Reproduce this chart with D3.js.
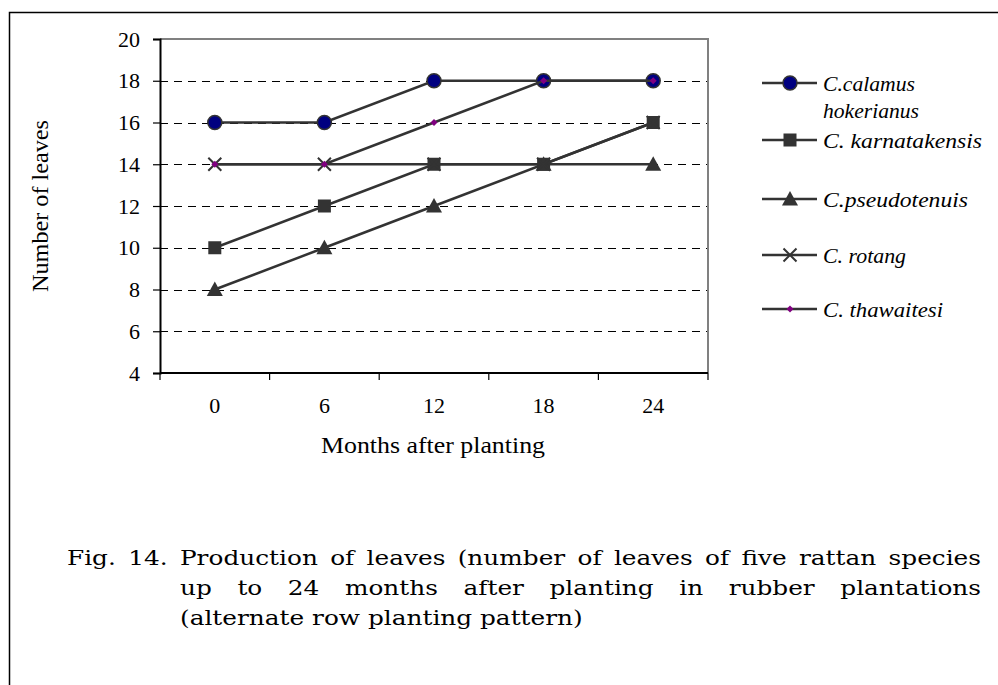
<!DOCTYPE html>
<html><head><meta charset="utf-8">
<script src="https://cdn.jsdelivr.net/npm/d3@7"></script>
<style>body{margin:0;background:#fff}svg{display:block}</style>
</head><body>
<script>
const months = ["0", "6", "12", "18", "24"];
const yTicks = [4, 6, 8, 10, 12, 14, 16, 18, 20];
const calamus = [16, 16, 18, 18, 18];
const karnatakensis = [10, 12, 14, 14, 16];
const pseudotenuis = [8, 10, 12, 14, 14];
const rotang = [14, 14, 14, 14, 16];
const thawaitesi = [14, 14, 16, 18, 18];
const seriesNames = [["C.calamus", "hokerianus"], ["C. karnatakensis"], ["C.pseudotenuis"], ["C. rotang"], ["C. thawaitesi"]];
const captionLines = [
  "Fig. 14. Production of leaves (number of leaves of five rattan species",
  "up to 24 months after planting in rubber plantations",
  "(alternate row planting pattern)"
];

const series = [
  {values: calamus, marker: "circle"},
  {values: karnatakensis, marker: "square"},
  {values: pseudotenuis, marker: "triangle"},
  {values: rotang, marker: "x"},
  {values: thawaitesi, marker: "dot"}
];

const W = 998, H = 685;
const svg = d3.select("body").append("svg").attr("width", W).attr("height", H);
const F = "'Liberation Serif', serif";

// frame
svg.append("path").attr("d", "M9.5,685 V12.5 H998").attr("fill", "none").attr("stroke", "#000").attr("stroke-width", 1.5);

const L = 160, R = 708, T = 39, B = 373;
const x = d3.scaleBand().domain(months).range([L, R]);
const y = d3.scaleLinear().domain([4, 20]).range([B, T]);

// grid
svg.append("g").selectAll("line").data(yTicks.filter(d => d > 4 && d < 20)).join("line")
  .attr("x1", L).attr("x2", R).attr("y1", d => Math.round(y(d)) + 0.5).attr("y2", d => Math.round(y(d)) + 0.5)
  .attr("stroke", "#000").attr("stroke-width", 1).attr("stroke-dasharray", "8,6");

// plot border top/right
svg.append("path").attr("d", `M${L},${T} H${R} V${B}`).attr("fill", "none").attr("stroke", "#808080").attr("stroke-width", 2);

// axes
const yAxis = svg.append("g").attr("transform", `translate(${L},0)`)
  .call(d3.axisLeft(y).tickValues(yTicks).tickSize(7).tickPadding(13).tickFormat(d3.format("d")));
const xAxis = svg.append("g").attr("transform", `translate(0,${B})`)
  .call(d3.axisBottom(x).tickSize(0).tickPadding(24));
[yAxis, xAxis].forEach(g => {
  g.selectAll("path").attr("stroke", "#000").attr("stroke-width", 2);
  g.selectAll("line").attr("stroke", "#000").attr("stroke-width", 1.2);
  g.selectAll("text").attr("font-family", F).attr("font-size", 22).attr("fill", "#000");
});
xAxis.select(".domain").attr("d", `M${L},0H${R}`);
const xb = months.map(m => x(m)).concat([x(months[months.length - 1]) + x.bandwidth()]);
svg.append("g").selectAll("line").data(xb).join("line")
  .attr("x1", d => d).attr("x2", d => d).attr("y1", B).attr("y2", B + 7)
  .attr("stroke", "#000").attr("stroke-width", 1.2);

// axis titles
svg.append("text").attr("x", 433).attr("y", 453).attr("text-anchor", "middle")
  .attr("font-family", F).attr("font-size", 23).attr("textLength", 224).attr("lengthAdjust", "spacingAndGlyphs")
  .text("Months after planting");
svg.append("text").attr("transform", "translate(48,206) rotate(-90)").attr("text-anchor", "middle")
  .attr("font-family", F).attr("font-size", 23).attr("textLength", 172).attr("lengthAdjust", "spacingAndGlyphs")
  .text("Number of leaves");

const cx = (i) => x(months[i]) + x.bandwidth() / 2;
const lineGen = d3.line().x((d, i) => cx(i)).y(d => y(d));

function drawMarker(g, type, px, py) {
  if (type === "circle") {
    g.append("circle").attr("cx", px).attr("cy", py).attr("r", 7).attr("fill", "#000080").attr("stroke", "#333").attr("stroke-width", 1.5);
  } else if (type === "square") {
    g.append("rect").attr("x", px - 6.5).attr("y", py - 6.5).attr("width", 13).attr("height", 13).attr("fill", "#333");
  } else if (type === "triangle") {
    g.append("path").attr("d", `M${px},${py - 8}L${px + 8},${py + 6.5}L${px - 8},${py + 6.5}Z`).attr("fill", "#333");
  } else if (type === "x") {
    g.append("path").attr("d", `M${px - 6.5},${py - 6.5}L${px + 6.5},${py + 6.5}M${px + 6.5},${py - 6.5}L${px - 6.5},${py + 6.5}`).attr("stroke", "#333").attr("stroke-width", 2);
  } else {
    g.append("path").attr("d", `M${px},${py - 3.5}L${px + 3.5},${py}L${px},${py + 3.5}L${px - 3.5},${py}Z`).attr("fill", "#800080");
  }
}

series.forEach(s => {
  const g = svg.append("g");
  g.append("path").attr("d", lineGen(s.values)).attr("fill", "none").attr("stroke", "#333").attr("stroke-width", 2.5);
  s.values.forEach((v, i) => drawMarker(g, s.marker, cx(i), y(v)));
});

// legend
const legY = [83, 140, 199, 255, 309];
const legW = [[92, 96], [159], [145], [83], [120]];
series.forEach((s, i) => {
  const g = svg.append("g");
  const ly = legY[i];
  g.append("line").attr("x1", 762).attr("x2", 817).attr("y1", ly).attr("y2", ly).attr("stroke", "#333").attr("stroke-width", 2.5);
  drawMarker(g, s.marker, 790, ly);
  seriesNames[i].forEach((t, k) => {
    g.append("text").attr("x", 823).attr("y", ly + 8 + k * 27).attr("font-family", F).attr("font-style", "italic")
      .attr("font-size", 22).attr("textLength", legW[i][k]).attr("lengthAdjust", "spacingAndGlyphs").text(t);
  });
});

// caption, horizontally widened and justified via word-spacing
const CF = "'DejaVu Serif', serif";
const capX = [67, 180, 180], capY = [565, 595, 625], capEnd = 981;
const probe = svg.append("text").attr("font-family", CF).attr("font-size", 20.5).text("Production");
const wProd = probe.node().getComputedTextLength();
probe.remove();
const texts = captionLines.map((line, i) => svg.append("text")
  .attr("font-family", CF).attr("font-size", 20.5).attr("fill", "#000").text(line));
const w0 = texts[0].node().getComputedTextLength();
const sx = Math.min(138 / wProd, (capEnd - capX[0] - 10 * 3) / w0);
texts.forEach((t, i) => {
  t.attr("transform", `translate(${capX[i]},${capY[i]}) scale(${sx},1)`);
  if (i < 2) {
    const w = t.node().getComputedTextLength();
    const gaps = captionLines[i].split(" ").length - 1;
    t.attr("word-spacing", ((capEnd - capX[i]) / sx - w) / gaps);
  }
});
</script>
</body></html>
